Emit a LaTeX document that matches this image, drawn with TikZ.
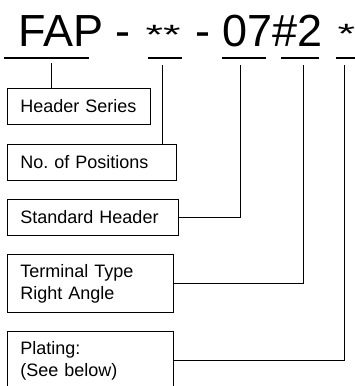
\documentclass[tikz,border=0pt]{standalone}
\usepackage{fontspec}
\setmainfont{Liberation Sans}
\usetikzlibrary{positioning}

\begin{document}
\begin{tikzpicture}[
    x=1pt, y=-1pt,
    part/.style={anchor=base west, inner sep=0pt, font=\fontsize{45}{50}\selectfont},
    box/.style={draw, line width=0.9pt, anchor=north west, inner xsep=13pt, inner ysep=0pt, align=left, font=\fontsize{18}{22}\selectfont},
    uline/.style={line width=1.3pt},
    link/.style={line width=0.9pt}
]
\useasboundingbox (0,0) rectangle (355,386);

% part number
\node (fap) [part] at (18,46) {FAP};
\node (dasha) [part] at (115,46) {-};
\node (stars) [part] at (145.5,44) {\scalebox{1}[0.62]{**}};
\node (dashb) [part] at (195,46) {-};
\node (code) [part] at (222,46) {07};
\node (term) [part] at (code.base east) {\#2};
\node (plate) [part] at (337.5,43) {\scalebox{1}[0.62]{*}};

% underlines
\draw [uline] (4,58) -- (89,58);
\draw [uline] (148,58) -- (182,58);
\draw [uline] (222,58) -- (266,58);
\draw [uline] (281,58) -- (319,58);
\draw [uline] (336,58) -- (356,58);

\coordinate (t1) at (51,63);
\coordinate (t2) at (162,65);
\coordinate (t3) at (240,65);
\coordinate (t4) at (303,65);
\coordinate (t5) at (344,65);

% boxes
\node (series) [box, text width=117pt, minimum height=36pt] at (7,88) {Header Series};
\node (pos) [box, text width=143pt, minimum height=36pt] at (7,144) {No.\ of Positions};
\node (std) [box, text width=145pt, minimum height=36pt] at (7,199) {Standard Header};
\node (type) [box, text width=140pt, minimum height=58pt] at (7,254) {Terminal Type\\Right Angle};
\node (plating) [box, text width=140pt, minimum height=58pt] at (7,331) {Plating:\\(See below)};

% links
\draw [link] (t1) -- (series.north -| t1);
\draw [link] (t2) -- (pos.north -| t2);
\draw [link] (t3) |- (std.east);
\draw [link] (t4) |- (type.east);
\draw [link] (t5) |- (plating.east);

\end{tikzpicture}
\end{document}
